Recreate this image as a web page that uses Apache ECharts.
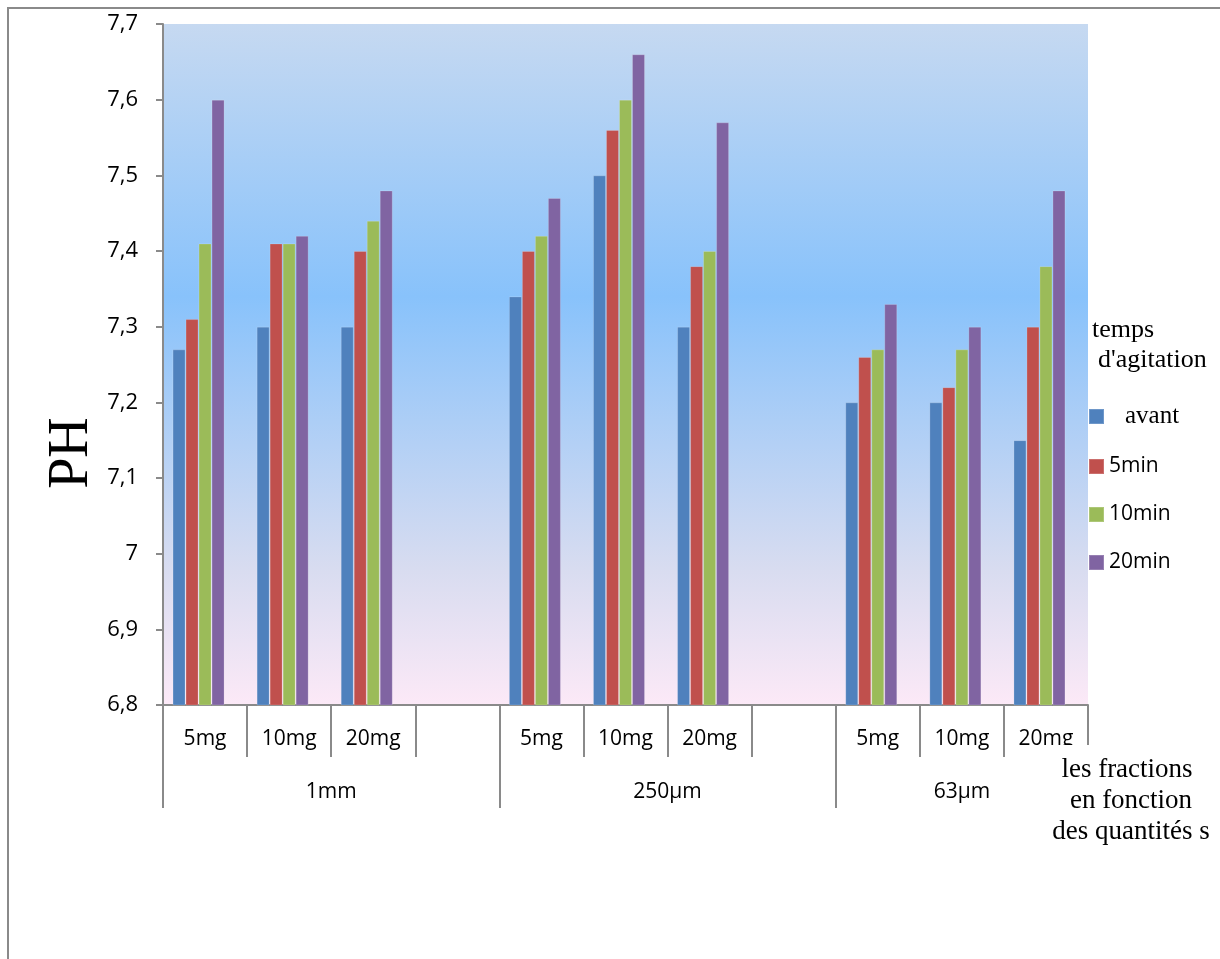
<!DOCTYPE html>
<html>
<head>
<meta charset="utf-8">
<script src="https://cdn.jsdelivr.net/npm/echarts@6/dist/echarts.min.js"></script>
<style>
  html, body { margin: 0; padding: 0; background: #fff; }
  #chart { width: 1220px; height: 959px; }
</style>
</head>
<body>
<div id="chart"></div>
<script>
// Sub-categories (quantity), with empty slots separating the fractions
const categories = ['5mg', '10mg', '20mg', '', '5mg', '10mg', '20mg', '', '5mg', '10mg', '20mg'];
// Fractions and how many slots each spans on the category axis
const groups = ['1mm', '250µm', '63µm'];
const groupSlots = [4, 4, 3];

// pH values per agitation time
const avant  = [7.27, 7.30, 7.30, null, 7.34, 7.50, 7.30, null, 7.20, 7.20, 7.15];
const min5   = [7.31, 7.41, 7.40, null, 7.40, 7.56, 7.38, null, 7.26, 7.22, 7.30];
const min10  = [7.41, 7.41, 7.44, null, 7.42, 7.60, 7.40, null, 7.27, 7.27, 7.38];
const min20  = [7.60, 7.42, 7.48, null, 7.47, 7.66, 7.57, null, 7.33, 7.30, 7.48];

const seriesNames = ['avant', '5min', '10min', '20min'];
const seriesData = [avant, min5, min10, min20];
const colors = ['#4f81bd', '#c0504d', '#9bbb59', '#8064a2'];

// Group boundaries and label positions on the secondary axis
const groupStarts = [];
const groupCenters = [];
let acc = 0;
groupSlots.forEach(n => { groupStarts.push(acc); groupCenters.push(acc + n / 2); acc += n; });

const sans = '"Open Sans", Lato, sans-serif';
const serif = '"Liberation Serif", "DejaVu Serif", serif';
const axisGray = '#8a8a8a';

const chart = echarts.init(document.getElementById('chart'), null, { renderer: 'canvas' });

const series = seriesData.map((d, i) => ({
  name: seriesNames[i],
  type: 'bar',
  data: d,
  barWidth: 13,
  barGap: '0%',
  itemStyle: { color: colors[i], borderColor: 'rgba(255,255,255,0.18)', borderWidth: 1 },
  emphasis: { disabled: true }
}));
// empty spacer column: keeps each cluster slightly left of its slot centre
series.push({ name: 'spacer', type: 'bar', data: [], barWidth: 13, barGap: '0%', silent: true });

chart.setOption({
  animation: false,
  grid: {
    left: 163, right: 132, top: 24, bottom: 254,
    show: true,
    borderWidth: 0,
    backgroundColor: new echarts.graphic.LinearGradient(0, 0, 0, 1, [
      { offset: 0, color: '#c6d9f1' },
      { offset: 0.4, color: '#88c2fb' },
      { offset: 0.8, color: '#d8dcf0' },
      { offset: 1, color: '#fce9f7' }
    ])
  },
  legend: {
    data: seriesNames,
    orient: 'vertical',
    left: 1088,
    top: 404,
    padding: 0,
    itemWidth: 15,
    itemHeight: 15,
    itemGap: 27,
    icon: 'rect',
    selectedMode: false,
    formatter: name => name === 'avant' ? '{serif|' + name + '}' : '{sans|' + name + '}',
    textStyle: {
      rich: {
        serif: { fontFamily: serif, fontSize: 25, lineHeight: 15, color: '#000', padding: [0, 0, 0, 16] },
        sans: { fontFamily: sans, fontSize: 21, lineHeight: 15, color: '#000' }
      }
    }
  },
  xAxis: [
    {
      type: 'category',
      data: categories,
      position: 'bottom',
      axisLine: { show: true, lineStyle: { color: axisGray, width: 2 } },
      axisTick: { show: true, interval: 0, length: 52, lineStyle: { color: axisGray, width: 2 } },
      axisLabel: { interval: 0, margin: 24, fontFamily: sans, fontSize: 21, color: '#000' },
      splitLine: { show: false }
    },
    {
      type: 'value',
      min: 0,
      max: categories.length,
      position: 'bottom',
      axisLine: { show: false },
      splitLine: { show: false },
      axisTick: { show: true, customValues: groupStarts, length: 103, lineStyle: { color: axisGray, width: 2 } },
      axisLabel: {
        customValues: groupCenters,
        margin: 77,
        fontFamily: sans, fontSize: 21, color: '#000',
        formatter: v => groups[groupCenters.indexOf(v)]
      }
    }
  ],
  yAxis: {
    type: 'value',
    min: 6.8,
    max: 7.7,
    interval: 0.1,
    axisLine: { show: true, lineStyle: { color: axisGray, width: 2 } },
    axisTick: { show: true, length: 7, lineStyle: { color: axisGray, width: 2 } },
    splitLine: { show: false },
    axisLabel: {
      margin: 25,
      fontFamily: sans, fontSize: 22, color: '#000',
      formatter: v => String(Number(v.toFixed(1))).replace('.', ',')
    }
  },
  series: series,
  graphic: [
    {
      type: 'rect', z: -10, silent: true,
      shape: { x: 8, y: 8, width: 1400, height: 1200 },
      style: { fill: 'none', stroke: '#8a8a8a', lineWidth: 2 }
    },
    {
      type: 'text', silent: true, x: 72, y: 453, rotation: Math.PI / 2,
      style: { text: 'PH', font: '56px ' + serif, fill: '#000', align: 'center', verticalAlign: 'middle' }
    },
    {
      type: 'text', silent: true, x: 1092, y: 330,
      style: { text: 'temps', font: '26px ' + serif, fill: '#000', align: 'left', verticalAlign: 'middle' }
    },
    {
      type: 'text', silent: true, x: 1098, y: 360,
      style: { text: "d'agitation", font: '26px ' + serif, fill: '#000', align: 'left', verticalAlign: 'middle' }
    },
    {
      type: 'rect', silent: true, z: 100,
      shape: { x: 1010, y: 745, width: 205, height: 105 },
      style: { fill: '#ffffff' }
    },
    {
      type: 'text', silent: true, z: 101, x: 1127, y: 770,
      style: { text: 'les fractions', font: '27px ' + serif, fill: '#000', align: 'center', verticalAlign: 'middle' }
    },
    {
      type: 'text', silent: true, z: 101, x: 1131, y: 801,
      style: { text: 'en fonction', font: '27px ' + serif, fill: '#000', align: 'center', verticalAlign: 'middle' }
    },
    {
      type: 'text', silent: true, z: 101, x: 1131, y: 832,
      style: { text: 'des quantités s', font: '27px ' + serif, fill: '#000', align: 'center', verticalAlign: 'middle' }
    }
  ]
});
</script>
</body>
</html>
